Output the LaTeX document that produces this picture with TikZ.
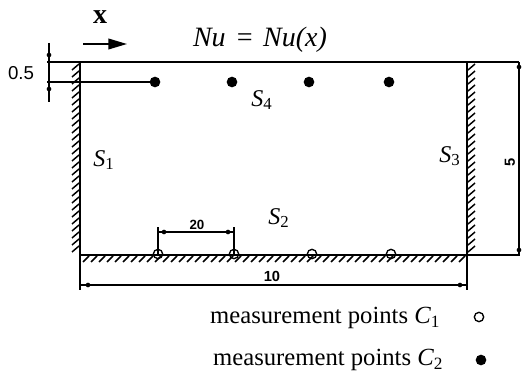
\documentclass[tikz,border=0pt]{standalone}
\usepackage{fontspec}
\setmainfont{Liberation Serif}
\setsansfont{Liberation Sans}
\usetikzlibrary{arrows.meta}
\tikzset{
  wall/.style={line width=1.2pt},
  hatch/.style={line width=1.1pt},
  thin line/.style={line width=0.9pt},
  tipdot/.style={circle,fill,inner sep=0pt,minimum size=3.5pt},
  slabel/.style={font=\fontsize{18}{18}\selectfont\itshape},
  legend/.style={font=\fontsize{18.5}{19}\selectfont,anchor=east}
}
\newcommand{\subidx}[1]{\textsubscript{\upshape #1}}
\begin{document}
\begin{tikzpicture}[x=0.75pt,y=-0.75pt]
    \useasboundingbox (0,0) rectangle (522,378);

    \coordinate (tl) at (80,62);
    \coordinate (tr) at (467,62);
    \coordinate (bl) at (80,255);
    \coordinate (br) at (467,255);

    \draw[wall] (47,62) -- (519,62);
    \draw[wall] (80,62) -- (80,290);
    \draw[wall] (467,62) -- (467,290);
    \draw[wall] (bl) -- (br);
    \draw[thin line] (br) -- (519,255) -- (519,62);

    \foreach \y in {64,71,...,250} \draw[hatch] (72,\y+6) -- (79,\y);
    \foreach \y in {64,71,...,250} \draw[hatch] (468,\y+6) -- (475,\y);
    \foreach \x in {83,91,...,462} \draw[hatch] (\x,262) -- (\x+6,256);

    \draw[-{Triangle[length=14pt,width=8pt]},line width=1.3pt] (83,44) -- (127,44);
    \node[font=\fontsize{21}{21}\selectfont\bfseries] (xlab) at (100,17) {x};
    \node[font=\fontsize{21}{21}\selectfont\itshape] (nu) at (260,40) {Nu\,\,=\,\,Nu(x)};

    \draw[thin line] (49,43) -- (49,102);
    \node[tipdot] at (49,55) {};
    \node[tipdot] at (49,89) {};
    \node[font=\fontsize{14}{14}\selectfont\sffamily] (half) at (21,73) {0.5};
    \draw[thin line] (47,82) -- (155,82);

    \foreach \x/\n in {155/1,232/2,309/3,389/4}
        \node[circle,fill,inner sep=0pt,minimum size=8pt] (c2\n) at (\x,82) {};
    \foreach \x/\n in {158/1,234/2,312/3,391/4}
        \node[circle,draw,line width=1pt,inner sep=0pt,minimum size=7pt] (c1\n) at (\x,254) {};

    \draw[thin line] (c11.center) -- (158,227);
    \draw[thin line] (c12.center) -- (234,227);
    \draw[thin line] (158,232) -- (234,232);
    \node[tipdot] at (164,232) {};
    \node[tipdot] at (228,232) {};
    \node[font=\fontsize{10}{10}\selectfont\sffamily\bfseries] (twenty) at (197,225) {20};

    \draw[thin line] (80,285) -- (467,285);
    \node[tipdot] at (88,285) {};
    \node[tipdot] at (460,285) {};
    \node[font=\fontsize{11}{11}\selectfont\sffamily\bfseries] (ten) at (272,276) {10};

    \node[tipdot] at (519,67) {};
    \node[tipdot] at (519,250) {};
    \node[font=\fontsize{11}{11}\selectfont\sffamily\bfseries,rotate=90] (five) at (510,162) {5};

    \node[slabel] (s1) at (104,160) {S\subidx{1}};
    \node[slabel] (s2) at (279,218) {S\subidx{2}};
    \node[slabel] (s3) at (450,156) {S\subidx{3}};
    \node[slabel] (s4) at (262,100) {S\subidx{4}};

    \node[legend] (leg1) at (445,318) {measurement points \textit{C}\subidx{1}};
    \node[legend] (leg2) at (448,360) {measurement points \textit{C}\subidx{2}};
    \node[circle,draw,line width=1pt,inner sep=0pt,minimum size=7pt] (sym1) at (479,317) {};
    \node[circle,fill,inner sep=0pt,minimum size=8pt] (sym2) at (481,360) {};
\end{tikzpicture}
\end{document}
